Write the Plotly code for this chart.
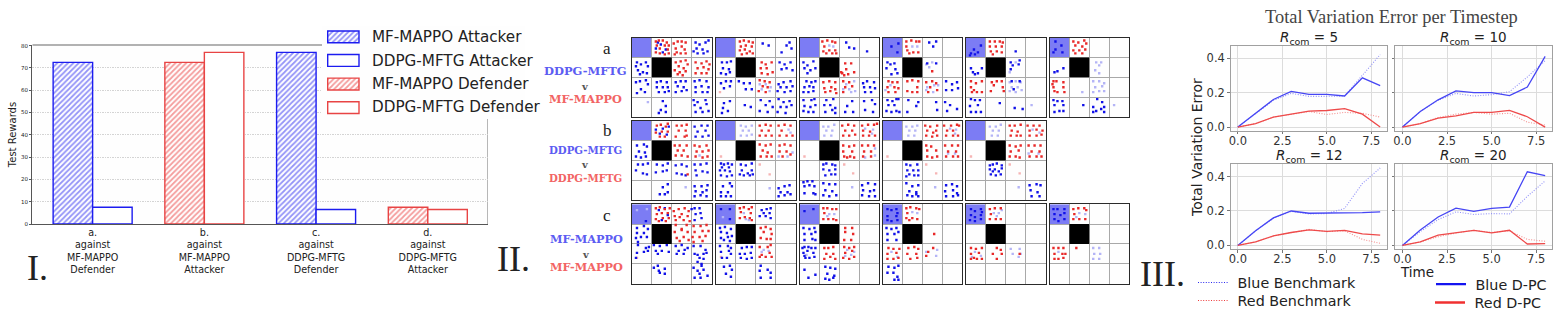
import plotly.graph_objects as go

W, H = 1558, 312

# ---------- Panel I: bars ----------
BAR_CATEGORIES = ["a.<br>against<br>MF-MAPPO<br>Defender", "b.<br>against<br>MF-MAPPO<br>Attacker",
                  "c.<br>against<br>DDPG-MFTG<br>Defender", "d.<br>against<br>DDPG-MFTG<br>Attacker"]
MF_ATTACKER = [72.5, None, 77, None]
DDPG_ATTACKER = [7.5, None, 6.5, None]
MF_DEFENDER = [None, 72.5, None, 7.5]
DDPG_DEFENDER = [None, 77, None, 6.5]
BAR_NAMES = ["MF-MAPPO Attacker", "DDPG-MFTG Attacker", "MF-MAPPO Defender", "DDPG-MFTG Defender"]
Y_TICKS = [0, 10, 20, 30, 40, 50, 60, 70, 80]

# ---------- Panel III: lines ----------
TIMESTEPS = [0, 1, 2, 3, 4, 5, 6, 7, 8]
R_VALUES = [5, 10, 12, 20]
BLUE_DPC = [[0, .08, .16, .207, .19, .19, .18, .285, .24],
            [0, .09, .158, .21, .2, .2, .182, .232, .41],
            [0, .085, .16, .2, .187, .187, .187, .19, .195],
            [0, .09, .165, .217, .198, .215, .223, .428, .405]]
BLUE_BENCH = [[0, .08, .155, .195, .178, .178, .18, .3, .42],
              [0, .09, .155, .195, .18, .188, .205, .29, .385],
              [0, .085, .158, .198, .183, .185, .215, .36, .45],
              [0, .08, .15, .195, .18, .185, .183, .285, .375]]
RED_DPC = [[0, .02, .058, .075, .092, .096, .107, .075, 0],
           [0, .02, .052, .065, .085, .085, .097, .06, 0],
           [0, .02, .055, .075, .09, .082, .087, .067, .06],
           [0, .02, .06, .072, .087, .073, .088, .008, .01]]
RED_BENCH = [[0, .02, .058, .075, .09, .073, .085, .08, .058],
             [0, .02, .055, .075, .085, .075, .08, .028, .012],
             [0, .02, .055, .075, .093, .08, .085, .035, .012],
             [0, .02, .05, .072, .088, .075, .085, .035, .024]]

# ---------- Panel II: agent positions, flat x,y pairs on a 0-80 board, 20 per cell ----------
A1_BLUE = [29,7,34,12,24,11,31,15,26,5,64,5,68,7,74,5,77,3,65,11,71,12,66,16,72,16,76,14,62,14,5,25,9,27,14,25,16,29,6,33,11,35,15,36,8,37,4,29,4,45,8,44,14,43,16,47,9,52,5,56,13,55,25,45,29,44,35,45,25,50,31,50,36,50,27,55,33,55,37,54,44,45,49,44,54,44,46,49,52,50,44,55,50,54,55,53,63,44,68,43,75,44,64,50,70,49,77,50,64,55,71,55,76,55,31,64,34,69,29,73,34,75,27,76,62,63,66,65,74,63,63,68,69,71,75,67,64,75,71,75,77,74]
A1_RED = [24,4,27,3,31,3,35,5,37,8,25,8,33,8,28,11,36,12,24,15,28,16,33,17,37,16,42,6,46,4,50,4,54,5,44,11,50,9,53,12,45,15,49,16,54,16,43,17,44,25,49,24,54,23,47,29,52,31,43,33,48,35,54,34,46,37,51,38,56,27,64,25,70,26,75,24,66,31,72,30,77,32,64,36,70,36,75,36,78,27]
A1_LIGHT = [16,65]
A2_BLUE = [47,6,53,8,74,5,71,8,76,11,66,15,6,25,11,25,15,24,7,31,13,32,5,36,10,37,14,35,64,25,69,27,75,25,66,32,71,31,77,33,5,46,10,44,15,44,8,51,14,49,23,44,28,46,34,46,30,52,36,52,63,47,68,45,75,44,65,50,71,50,77,49,62,54,69,55,75,54,8,66,14,64,7,71,6,76,12,74,29,68,35,70,45,63,50,68,54,64,44,74,52,75,57,70,63,62,68,65,74,64,65,70,71,70,76,68,62,75,70,76]
A2_RED = [24,4,28,3,33,4,37,5,25,9,30,8,36,9,24,13,29,12,34,14,26,17,31,16,37,16,46,25,50,27,56,25,45,31,51,31,46,36,52,37,57,35,44,43,49,44,54,45,47,49,52,50,43,54,50,55]
A2_LIGHT = [44,47,50,47,55,50,46,52,54,54]
A2_PINK = [4,55]
A3_BLUE = [47,5,50,10,55,11,68,14,4,25,8,28,14,24,5,31,11,33,16,31,8,36,7,44,12,45,16,44,5,50,10,49,14,50,4,55,9,55,14,54,64,46,68,44,75,45,65,50,71,50,66,55,72,55,76,51,4,63,12,63,15,62,5,69,11,70,16,68,4,74,9,75,14,75,27,63,34,62,25,68,31,68,36,71,26,75,33,73,36,76,48,69,53,64,46,75,54,75,65,64,73,63,76,67,66,73,74,75]
A3_RED = [23,4,28,3,33,4,36,5,25,9,24,14,30,13,36,13,27,16,33,16,37,16,46,26,52,26,47,32,43,36,49,37,55,35,45,38,42,35,24,45,30,44,36,45,25,51,32,50,36,52,26,55,31,54,37,56,44,44,50,45,46,50,53,49,44,55]
A3_LIGHT = [30,8,34,9,47,47,55,44,50,52,44,52,56,54,52,55]
A4_BLUE = [16,6,9,9,15,15,47,5,51,9,54,4,5,25,8,27,4,31,12,26,13,32,15,36,9,37,45,26,54,26,64,44,70,47,64,53,70,53,76,51,75,45,5,63,10,64,14,62,16,62,6,68,12,68,4,74,9,75,14,74,17,75,26,63,36,65,34,69,25,75,54,65,55,73,63,65,68,68,65,74,75,72]
A4_RED = [24,4,29,3,34,4,37,4,24,9,25,13,31,15,36,15,27,16,50,34,6,44,10,45,15,45,5,50,12,50,16,51,6,55,13,55,25,44,30,43,35,50,36,44,25,54,30,55,35,55,44,45,50,44,54,46,48,50,55,53,46,55]
A4_LIGHT = [30,9,35,9,44,27,50,25,47,30,8,48,3,53,45,50,52,48,44,53,56,48,51,55]
A5_BLUE = [15,8,8,12,5,16,12,15,4,18,9,17,50,14,5,31,7,35,12,36,16,31,9,37,45,25,54,23,47,28,45,32,53,27,46,44,54,44,48,52,5,62,9,63,14,63,4,69,12,68,5,75,10,75,15,75,34,66,49,71,57,72]
A5_RED = [24,4,29,4,34,4,37,5,24,9,30,9,36,9,25,14,31,14,36,15,27,17,5,44,10,46,16,44,5,50,8,53,6,55,11,55,16,55,26,45,31,44,36,44,28,48,25,54,38,54,37,50]
A5_LIGHT = [50,25,44,35,44,45,50,44,55,45,46,50,52,50,44,54,50,55,56,53,66,68]
A6_BLUE = [6,4,12,8,6,12,4,15,13,15,5,35,8,34,14,31,4,63,8,64,13,64,5,68,14,68,5,75,10,74,14,74,34,68,48,62,53,65,44,70,47,74,52,72,55,70,44,75,55,75]
A6_RED = [24,4,29,5,35,3,37,6,26,8,33,9,24,13,30,13,36,12,26,16,33,16,4,44,7,44,14,45,4,50,14,50,5,54,8,55,15,55,3,47]
A6_LIGHT = [47,25,52,25,50,28,46,33,50,36,33,55,44,44,50,44,55,46,46,50,53,49,44,55,50,54,55,54,65,68]

B1_BLUE = [24,9,31,8,37,6,28,13,35,14,63,6,70,5,76,5,66,11,74,10,64,16,71,16,77,15,5,25,12,24,15,26,7,31,13,32,4,36,9,37,14,36,6,44,11,44,16,43,4,50,11,53,15,54,25,44,31,45,36,43,24,52,31,51,35,50,44,45,50,44,55,46,45,53,50,54,54,55,63,44,69,44,75,43,64,50,71,51,76,52,65,55,31,67,36,64,28,74,33,74,36,72,63,66,70,66,76,65,64,71,71,72,75,70,63,76,69,75,75,76]
B1_RED = [25,5,29,4,34,6,36,3,24,12,30,11,36,11,28,16,33,16,45,5,50,5,55,4,47,10,54,10,44,16,53,16,55,15,43,25,48,25,55,25,46,30,52,30,44,35,50,35,56,36,63,25,68,26,75,25,65,31,71,31,77,30,64,36,71,37,76,36,56,54]
B1_LIGHT = [68,35,54,67]
B2_BLUE = [5,43,8,44,12,43,16,44,4,50,14,51,9,50,5,55,11,56,16,55,6,47,13,47,25,44,30,45,36,43,26,50,36,50,28,55,34,55,32,53,37,54,24,54,7,66,14,63,16,66,5,72,12,72,5,76,10,76,15,76,63,68,69,66,74,65,65,72,72,72,75,74,63,76,69,75]
B2_RED = [44,5,50,4,55,5,46,10,53,10,44,15,50,15,56,15,63,5,69,4,75,5,66,10,64,15,71,15,77,15,44,24,50,25,55,24,47,30,52,32,45,36,51,36,56,36,64,25,69,24,75,25,64,31,71,31,67,36,75,34]
B2_LIGHT = [25,5,30,6,36,5,27,10,33,10,25,15,31,15,36,14,73,9,75,12,63,36,72,36,77,32,54,68]
B2_PINK = [5,36,44,44,54,54]
B3_BLUE = [24,44,27,43,33,44,36,45,24,49,30,50,36,49,26,55,32,54,36,54,4,62,8,61,13,61,5,66,10,65,15,66,5,73,14,73,16,74,24,63,30,64,36,64,26,70,33,71,24,75,30,76,37,75,63,65,69,63,76,64,64,70,71,71,75,70,63,75,70,76,76,76]
B3_RED = [43,5,49,4,55,5,46,10,53,10,44,15,50,15,56,14,63,5,69,4,75,4,78,3,64,10,71,11,64,15,70,15,76,15,44,25,50,26,55,25,44,31,53,31,45,36,51,36,55,37,48,37,63,25,69,25,75,25,65,31,72,31,64,36,72,36]
B3_LIGHT = [24,6,29,6,35,4,27,10,33,10,25,15,32,15,66,8,74,9,73,13,66,37,76,35,76,28,53,67]
B3_PINK = [5,36,45,44,54,53]
B4_BLUE = [24,44,28,45,35,44,25,50,31,50,36,50,27,54,32,55,24,56,36,55,24,63,30,66,36,65,27,71,34,72,25,75,30,76,36,76,34,74,64,65,70,64,75,66,63,71,71,70,75,73,64,76,71,76,76,75]
B4_RED = [43,5,48,6,55,5,45,10,51,12,54,10,44,15,50,16,55,15,62,5,69,5,75,4,77,5,65,10,71,10,64,15,71,15,76,15,44,25,49,26,45,30,54,30,45,36,50,37,55,36,63,25,70,25,76,25,66,31,74,31,64,36,71,36,76,36]
B4_LIGHT = [24,6,30,6,35,5,27,10,33,10,26,15,32,15,68,8,74,9,73,13,66,33,73,33,53,67]
B4_PINK = [5,36,44,44,54,53]
B5_BLUE = [24,45,27,44,31,43,36,45,24,49,29,49,36,48,25,54,30,55,35,54,27,51,33,51,64,65,71,64,75,65,65,70,72,72,66,76,74,76]
B5_RED = [44,5,49,5,55,4,46,10,52,11,45,15,51,15,55,15,62,5,68,5,74,5,64,10,71,9,77,10,64,15,71,15,76,14,44,25,50,26,55,25,45,31,53,30,44,36,50,36,54,37,63,25,69,25,75,25,66,31,74,31,64,36,71,36,76,36]
B5_LIGHT = [24,6,30,6,35,4,27,10,33,10,26,15,32,15,67,9,74,12,63,33,73,33,53,67]
B5_PINK = [5,36,44,44,54,53]

C1_BLUE = [14,17,27,6,33,4,36,11,30,16,60,5,63,4,68,4,64,10,69,9,63,16,70,14,5,24,12,22,16,25,5,29,12,29,4,34,9,33,15,33,6,38,6,41,14,44,17,43,5,49,12,48,4,54,16,47,22,41,28,42,35,41,24,47,30,47,37,48,26,50,44,42,50,41,47,47,53,46,56,44,45,50,52,50,63,50,66,51,72,50,75,49,68,54,72,55,66,58,70,60,74,46,62,42,69,42,22,64,27,67,33,65,28,69,33,70,26,62,62,64,66,67,70,62,72,66,68,70,76,72,63,74,69,74]
C1_RED = [24,4,28,3,33,5,38,4,25,10,30,9,36,9,24,15,31,14,37,14,27,17,34,17,42,7,47,5,53,4,57,7,43,12,50,10,56,12,44,16,52,16,58,17,48,13,44,21,50,25,55,21,43,28,50,26,56,28,45,34,52,33,57,36,48,37,62,22,69,22,75,21,63,28,71,27,77,27,61,33,68,33,74,32,62,38,71,37]
C1_LIGHT = [5,6,15,5]
C1_PINK = [5,54]
C2_BLUE = [5,5,14,5,14,15,46,6,51,5,55,4,48,9,54,9,44,12,50,12,55,14,4,24,9,23,15,25,5,28,11,29,5,34,12,33,16,32,8,36,14,37,4,42,12,42,15,44,5,48,13,47,15,50,6,54,11,54,26,44,31,43,36,43,24,50,29,50,35,49,25,54,31,55,36,54,8,63,14,62,16,66,10,70,15,73,45,62,44,67,52,66,55,69,45,74,55,74]
C2_RED = [24,4,28,3,33,5,36,3,25,8,35,9,24,14,29,13,34,14,36,16,45,24,50,23,55,25,48,28,56,30,45,34,51,35,55,35,44,43,52,43,55,41,46,51,54,49,44,53,50,53,56,53]
C2_LIGHT = [7,13,28,9,30,15,33,16,48,46,53,47,46,48]
C2_PINK = [5,53]
C3_BLUE = [5,7,14,5,4,24,10,25,15,24,5,30,12,30,16,28,5,36,13,35,16,36,3,44,5,43,9,43,12,44,16,44,4,49,8,47,14,49,5,52,10,54,15,53,6,54,5,66,9,74,16,71,26,63,31,64,36,65,28,70,26,75,34,74,30,76,35,72]
C3_RED = [24,4,28,4,33,5,37,5,25,9,24,15,29,15,34,15,37,16,46,24,53,24,46,28,54,30,45,36,52,36,25,44,29,44,34,43,27,50,34,50,25,55,31,53,36,55,45,43,50,44,55,43,46,49,53,47,44,54,50,55,55,53]
C3_LIGHT = [30,10,35,10,28,12,7,51,48,46,52,51,46,52,55,48]
C4_BLUE = [5,5,9,6,14,5,15,9,5,12,14,12,5,16,9,17,15,16,4,24,9,25,14,24,5,30,12,30,16,28,5,36,14,36,6,63,12,64,16,62,5,69,11,69,15,73,16,76,12,76]
C4_RED = [24,4,28,3,34,4,37,5,25,9,24,14,30,14,35,15,27,16,52,30,6,44,11,45,17,45,5,50,14,49,5,55,11,55,16,54,26,44,32,43,36,45,25,50,34,50,28,55,35,54,51,44,46,48,44,52]
C4_LIGHT = [30,8,35,9,9,48,15,53,55,46,54,52,44,48]
C5_BLUE = [5,5,9,7,15,5,5,11,9,13,15,11,4,16,9,17,15,15,16,8]
C5_RED = [24,5,29,4,35,4,25,10,24,15,30,15,35,15,5,44,10,45,16,44,5,50,13,49,5,55,11,55,16,55,8,54,31,44,35,46,27,50,36,50,31,55,54,50]
C5_LIGHT = [28,9,33,9,36,6,31,12,9,48,15,52,6,53,45,45,54,45,47,50,55,50,53,53]
C6_BLUE = [4,5,8,5,15,5,5,10,11,11,15,9,5,15,9,17,15,15]
C6_RED = [24,5,29,4,35,4,37,6,25,10,24,15,30,15,36,15,4,44,9,44,14,44,5,50,13,50,5,55,9,55,14,54,16,50,27,44]
C6_LIGHT = [30,9,36,10,27,13,9,48,44,44,50,44,45,50,51,50,44,55,50,55]

PANEL_COLS = [632, 716, 799.5, 882.5, 966, 1049.5]
PANEL_ROWS = [37.5, 120.7, 204.2]
PANEL_SIZE = 79.5
PANELS = [
    (0, 0, A1_BLUE, A1_RED, A1_LIGHT, []), (0, 1, A2_BLUE, A2_RED, A2_LIGHT, A2_PINK),
    (0, 2, A3_BLUE, A3_RED, A3_LIGHT, []), (0, 3, A4_BLUE, A4_RED, A4_LIGHT, []),
    (0, 4, A5_BLUE, A5_RED, A5_LIGHT, []), (0, 5, A6_BLUE, A6_RED, A6_LIGHT, []),
    (1, 0, B1_BLUE, B1_RED, B1_LIGHT, []), (1, 1, B2_BLUE, B2_RED, B2_LIGHT, B2_PINK),
    (1, 2, B3_BLUE, B3_RED, B3_LIGHT, B3_PINK), (1, 3, B4_BLUE, B4_RED, B4_LIGHT, B4_PINK),
    (1, 4, B5_BLUE, B5_RED, B5_LIGHT, B5_PINK),
    (2, 0, C1_BLUE, C1_RED, C1_LIGHT, C1_PINK), (2, 1, C2_BLUE, C2_RED, C2_LIGHT, C2_PINK),
    (2, 2, C3_BLUE, C3_RED, C3_LIGHT, []), (2, 3, C4_BLUE, C4_RED, C4_LIGHT, []),
    (2, 4, C5_BLUE, C5_RED, C5_LIGHT, []), (2, 5, C6_BLUE, C6_RED, C6_LIGHT, []),
]

BLUE = "#2a2af0"
RED = "#ea3c3c"
BORDER_BLUE = "#1c1cf0"
BORDER_RED = "#e84444"
DOT_COLORS = ["#1010e8", "#e82828", "#b4b4f6", "#f6b4b4"]
CELL_LAV = "#7c7cf4"
FINE_DOTS = "1px,1.6px"


def fx(px):
    return px / W


def fy(px):
    return 1 - px / H


def dom_x(a, b):
    return [fx(a), fx(b)]


def dom_y(top, bottom):
    return [fy(bottom), fy(top)]


fig = go.Figure()
layout = {}
shapes = []
annotations = []


def note(text, x, y, size, color="#222", family="DejaVu Sans", xanchor="center", angle=0):
    annotations.append(dict(text=text, x=fx(x), y=fy(y), xref="paper", yref="paper", showarrow=False,
                            xanchor=xanchor, yanchor="middle", textangle=angle,
                            font=dict(size=size, color=color, family=family)))


# ---- bars
BAR_W = 0.3536
bar_specs = [(MF_ATTACKER, BLUE, BORDER_BLUE, True), (DDPG_ATTACKER, BLUE, BORDER_BLUE, False),
             (MF_DEFENDER, RED, BORDER_RED, True), (DDPG_DEFENDER, RED, BORDER_RED, False)]
for (vals, col, edge, hatch), name in zip(bar_specs, BAR_NAMES):
    fig.add_trace(go.Bar(
        x=[0, 1, 2, 3], y=vals, name=name, width=BAR_W, offset=-BAR_W if hatch else 0,
        marker=dict(color="white", line=dict(color=edge, width=1.4),
                    pattern=dict(shape="/" if hatch else "", fgcolor=col, bgcolor="white",
                                 size=3.8, solidity=0.46)),
        showlegend=False, xaxis="x", yaxis="y"))
layout["xaxis"] = dict(domain=dom_x(32.3, 487.7), range=[-0.54, 3.536], tickvals=[0, 1, 2, 3],
                       ticktext=BAR_CATEGORIES, ticks="", showgrid=False, zeroline=False,
                       showline=True, linecolor="#555", linewidth=1.2, ticklabelstandoff=-1,
                       tickfont=dict(size=9.6, family="DejaVu Sans", color="#222"), anchor="y")
layout["yaxis"] = dict(domain=dom_y(45, 224), range=[0, 80.3], tickvals=Y_TICKS, ticks="outside", ticklen=2,
                       tickcolor="#555", tickfont=dict(size=5.5, family="DejaVu Sans", color="#222"),
                       showgrid=True, gridcolor="#d4d4d4", griddash="1.5px,1px", gridwidth=1, zeroline=False,
                       showline=True, linecolor="#555", linewidth=1.2, anchor="x",
                       title=dict(text="Test Rewards", font=dict(size=10, family="DejaVu Sans", color="#222"),
                                  standoff=2))
shapes.append(dict(type="line", xref="x", yref="y domain", x0=-0.54, x1=3.536, y0=1, y1=1, layer="below",
                   line=dict(color="#999", width=1.4)))
shapes.append(dict(type="line", xref="x", yref="y domain", x0=3.536, x1=3.536, y0=0, y1=1, layer="below",
                   line=dict(color="#999", width=1.4)))

# ---- line charts
line_slots = [(1230.7, 1387.3, 45.7, 130.7), (1395.3, 1552.3, 45.7, 130.7),
              (1230.7, 1387.3, 164.3, 249), (1395.3, 1552.3, 164.3, 249)]
for i, (x0, x1, y0, y1) in enumerate(line_slots):
    n = i + 2
    xa, ya = f"x{n}", f"y{n}"
    for series, col, dash, width in ((BLUE_BENCH[i], "#8f8ff8", FINE_DOTS, 1.1), (RED_BENCH[i], "#f59090", FINE_DOTS, 1.1),
                                     (BLUE_DPC[i], "#4646f4", "solid", 1.3), (RED_DPC[i], "#ee4a4a", "solid", 1.3)):
        fig.add_trace(go.Scatter(x=TIMESTEPS, y=series, mode="lines", xaxis=xa, yaxis=ya, showlegend=False,
                                 line=dict(color=col, dash=dash, width=width)))
    layout[f"xaxis{n}"] = dict(domain=dom_x(x0, x1), range=[-0.4, 8.4], tickvals=[0, 2.5, 5, 7.5],
                               tickformat=".1f", ticks="outside", ticklen=2.5, tickcolor="#777",
                               ticklabelstandoff=-3,
                               tickfont=dict(size=11.5, family="DejaVu Sans", color="#333"),
                               showgrid=True, gridcolor="#dcdcdc", gridwidth=1, zeroline=False, showline=True,
                               mirror=True, linecolor="#a0a0a0", linewidth=1, anchor=ya)
    layout[f"yaxis{n}"] = dict(domain=dom_y(y0, y1), range=[-0.021, 0.4715], tickvals=[0, 0.2, 0.4],
                               tickformat=".1f", ticks="outside", ticklen=2.5, tickcolor="#777",
                               showticklabels=i % 2 == 0,
                               tickfont=dict(size=11.5, family="DejaVu Sans", color="#333"),
                               showgrid=True, gridcolor="#dcdcdc", gridwidth=1, zeroline=False, showline=True,
                               mirror=True, linecolor="#a0a0a0", linewidth=1, anchor=xa)
    note(f"<i>R</i><sub>com</sub> = {R_VALUES[i]}", (x0 + x1) / 2, y0 - 8, 13.5)

# ---- native legends for the lines
legend_items = [("\u00a0Blue Benchmark", "#2a2af0", FINE_DOTS, 1.2, "legend2", 1193, 282.7),
                ("\u00a0Red Benchmark", "#ee3a3a", FINE_DOTS, 1.2, "legend3", 1193, 300.7),
                ("\u00a0Blue D-PC", "#1414f0", "solid", 2.4, "legend4", 1431, 284.3),
                ("\u00a0Red D-PC", "#f03030", "solid", 2.4, "legend5", 1430, 302.7)]
for name, col, dash, width, leg, lx, ly in legend_items:
    fig.add_trace(go.Scatter(x=[None], y=[None], mode="lines", name=name, legend=leg, xaxis="x2", yaxis="y2",
                             line=dict(color=col, dash=dash, width=width)))
    layout[leg] = dict(x=fx(lx), y=fy(ly), xanchor="left", yanchor="middle", bgcolor="rgba(0,0,0,0)",
                       borderwidth=0, font=dict(size=14.3, family="DejaVu Sans", color="#222"), itemwidth=30)

# ---- grid panels
for k, (row, col, blue, red, light, pink) in enumerate(PANELS):
    n = k + 6
    xa, ya = f"x{n}", f"y{n}"
    left, top = PANEL_COLS[col], PANEL_ROWS[row]
    for pts, color in zip((light, pink, blue, red), (DOT_COLORS[2], DOT_COLORS[3], DOT_COLORS[0], DOT_COLORS[1])):
        if pts:
            fig.add_trace(go.Scatter(x=pts[0::2], y=pts[1::2], mode="markers", xaxis=xa, yaxis=ya, showlegend=False,
                                     marker=dict(symbol="square", size=2.4, color=color, line=dict(width=0))))
    axis = dict(range=[0, 80], tickvals=[20, 40, 60], showticklabels=False, ticks="", showgrid=True,
                gridcolor="#a8a8a8", gridwidth=1, zeroline=False, showline=True, mirror=True,
                linecolor="#2a2a2a", linewidth=1.4)
    layout[f"xaxis{n}"] = dict(axis, domain=dom_x(left, left + PANEL_SIZE), anchor=ya)
    layout[f"yaxis{n}"] = dict(axis, domain=dom_y(top, top + PANEL_SIZE), anchor=xa, range=[80, 0])
    shapes.append(dict(type="rect", xref=xa, yref=ya, x0=0, x1=20, y0=0, y1=20, layer="below",
                       fillcolor=CELL_LAV, line=dict(width=0)))
    shapes.append(dict(type="rect", xref=xa, yref=ya, x0=20, x1=40, y0=20, y1=40, layer="above",
                       fillcolor="#000000", line=dict(width=0)))

# ---- legend of the bars, drawn on its own small axes above the bar chart
n = 23
LEGEND_ROWS = [0, 1, 2, 3]
for idx, ((vals, col, edge, hatch), name) in enumerate(zip(bar_specs, BAR_NAMES)):
    fig.add_trace(go.Bar(
        y=[LEGEND_ROWS[idx]], x=[31.3], base=[5.7], orientation="h", width=0.5, xaxis=f"x{n}", yaxis=f"y{n}",
        showlegend=False, name=name,
        marker=dict(color="white", line=dict(color=edge, width=1.4),
                    pattern=dict(shape="/" if hatch else "", fgcolor=col, bgcolor="white", size=3.8, solidity=0.46))))
    note(name, 370, 37.3 + idx * 23.4, 15.2, xanchor="left")
layout[f"xaxis{n}"] = dict(domain=dom_x(322, 525), range=[0, 203], visible=False, anchor=f"y{n}")
layout[f"yaxis{n}"] = dict(domain=dom_y(26, 119), range=[3.48, -0.46], visible=False, anchor=f"x{n}")

# ---- text
note("I.", 25, 268, 36, "#222", "Liberation Serif", "left")
note("II.", 494.5, 259, 36, "#222", "Liberation Serif", "left")
note("III.", 1138, 274, 36, "#222", "Liberation Serif", "left")
note("a", 606.7, 48, 17, "#222", "Liberation Serif")
note("b", 607.7, 130, 17, "#222", "Liberation Serif")
note("c", 607, 215.7, 17, "#222", "Liberation Serif")
SERIF_BOLD = "DejaVu Serif"
B_BLUE, B_RED = "#5c5cf2", "#f26464"
for txt, x, y, size, color in [
    ("<b>DDPG-MFTG</b>", 585, 71, 11.5, B_BLUE), ("<b>v</b>", 585, 86, 10, "#555"), ("<b>MF-MAPPO</b>", 585, 99, 11.3, B_RED),
    ("<b>DDPG-MFTG</b>", 585, 150, 10.2, B_BLUE), ("<b>v</b>", 585, 164.7, 10, "#555"), ("<b>DDPG-MFTG</b>", 585, 178, 10.2, B_RED),
    ("<b>MF-MAPPO</b>", 586, 239.3, 11.3, B_BLUE), ("<b>v</b>", 586, 254, 10, "#555"), ("<b>MF-MAPPO</b>", 586, 266.7, 11.3, B_RED),
]:
    note(txt, x, y, size, color, SERIF_BOLD)
note("Total Variation Error per Timestep", 1391.7, 17, 18.4, "#444", "Liberation Serif")
note("Total Variation Error", 1197, 148, 14, "#222", angle=-90)
note("Time", 1398, 272, 13.5, "#222", xanchor="left")

fig.update_layout(width=W, height=H, margin=dict(l=0, r=0, t=0, b=0, autoexpand=False), autosize=False,
                  paper_bgcolor="#ffffff", plot_bgcolor="#fefefe", barmode="overlay",
                  shapes=shapes, annotations=annotations, **layout)
fig.write_html("out.html", config={"displayModeBar": False}, post_script="document.body.style.margin='0';")
